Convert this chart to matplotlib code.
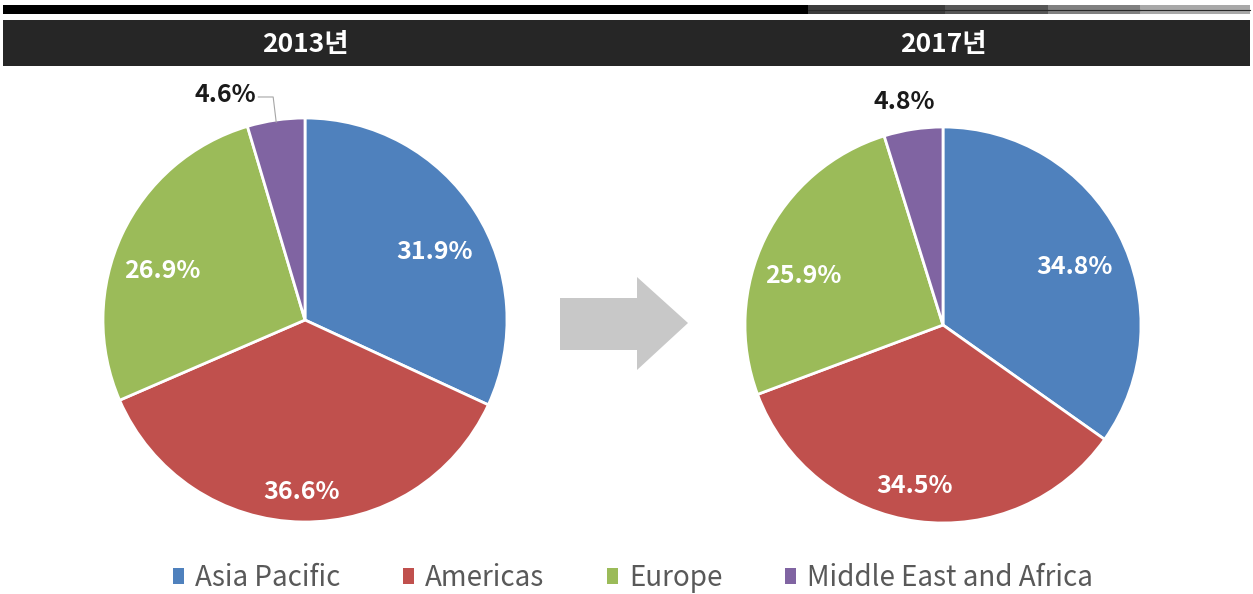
import numpy as np
import matplotlib
matplotlib.use('Agg')
import matplotlib.pyplot as plt
from matplotlib.patches import Rectangle, Polygon, Patch

plt.rcParams['font.family'] = ['Noto Sans CJK KR', 'DejaVu Sans']

regions = ['Asia Pacific', 'Americas', 'Europe', 'Middle East and Africa']
years = ['2013년', '2017년']
share_2013 = [31.9, 36.6, 26.9, 4.6]
share_2017 = [34.8, 34.5, 25.9, 4.8]
colors = ['#4F81BD', '#C0504D', '#9BBB59', '#8064A2']

W, H = 1253, 594
fig = plt.figure(figsize=(W / 100, H / 100), dpi=100)

# background axes in pixel units (y down)
bg = fig.add_axes([0, 0, 1, 1])
bg.set_xlim(0, W)
bg.set_ylim(H, 0)
bg.axis('off')

# top rule
bg.add_patch(Rectangle((3, 5), 805, 9, color='black', lw=0))
for x0, x1, c in [(808, 945, '#3c3c3c'), (945, 1048, '#565656'),
                  (1048, 1140, '#808080'), (1140, 1250, '#a8a8a8')]:
    bg.add_patch(Rectangle((x0, 5), x1 - x0, 9, color=c, lw=0))
    bg.plot([x0, x1], [9.5, 9.5], color='#2a2a2a', lw=0.8)

# header band
bg.add_patch(Rectangle((3, 20), 1247, 46, color='#262626', lw=0))

# arrow between pies
bg.add_patch(Polygon([(560, 298), (637, 298), (637, 277), (688, 323),
                      (637, 370), (637, 350), (560, 350)],
                     closed=True, color='#c8c8c8', lw=0))


def draw_pie(cx, cy, r, values, title, lab_r, lab_shift, outside, leader=False):
    ax = fig.add_axes([(cx - r) / W, (H - cy - r) / H, 2 * r / W, 2 * r / H])
    ax.pie(values, colors=colors, startangle=90, counterclock=False,
           wedgeprops=dict(edgecolor='white', linewidth=2))
    ax.set_xlim(-1, 1)
    ax.set_ylim(-1, 1)
    ax.set_aspect('auto')

    bg.text(cx, 44, title, ha='center', va='center', color='white',
            fontsize=19, fontweight='bold')

    cum = np.cumsum([0] + values[:-1])
    for i, v in enumerate(values):
        mid = 90 - (cum[i] + v / 2) * 3.6
        label = '{:.1f}%'.format(v)
        if i < 3:
            a = np.deg2rad(mid + lab_shift[i])
            ax.text(lab_r[i] * np.cos(a), lab_r[i] * np.sin(a), label,
                    ha='center', va='center', color='white', fontsize=18,
                    fontweight='bold')
        else:
            lx, ly = outside
            ax.text(lx, ly, label, ha='center', va='center', color='#1a1a1a',
                    fontsize=18, fontweight='bold')
            if leader:
                a = np.deg2rad(mid)
                ex, ey = 0.99 * np.cos(a), 0.99 * np.sin(a)
                ax.plot([ex, ex - 0.015, lx + 0.165], [ey, ly - 0.01, ly - 0.01],
                        color='#a6a6a6', lw=0.8, clip_on=False)


draw_pie(305, 320, 202, share_2013, years[0], [0.726, 0.852, 0.748], [-5.0, -0.3, 6.1],
         (-0.396, 1.114), leader=True)
draw_pie(943, 325, 198, share_2017, years[1], [0.724, 0.826, 0.749], [-3.5, -2.8, 6.8],
         (-0.197, 1.126))

handles = [Patch(facecolor=c, edgecolor='none') for c in colors]
leg = fig.legend(handles, regions, ncol=4, loc='center', bbox_to_anchor=(633 / W, 1 - 578 / H),
                 frameon=False, fontsize=20, handlelength=0.4, handleheight=0.47,
                 handletextpad=0.4, columnspacing=2.25)
for t in leg.get_texts():
    t.set_color('#595959')

fig.savefig('out.png', dpi=100, facecolor='white')
